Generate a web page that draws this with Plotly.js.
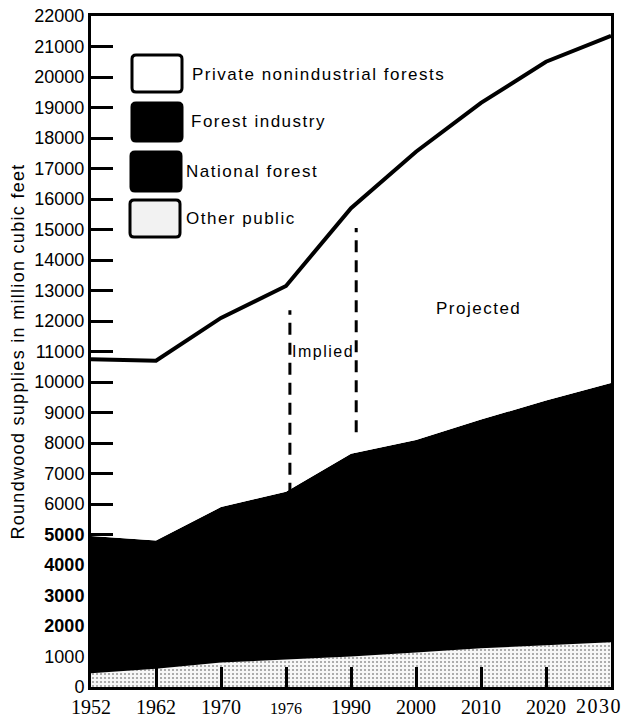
<!DOCTYPE html>
<html>
<head>
<meta charset="utf-8">
<script src="https://cdn.plot.ly/plotly-3.0.1.min.js"></script>
<style>
  html, body { margin: 0; padding: 0; background: #ffffff; }
  #chart { width: 626px; height: 718px; }
  .ytitle { letter-spacing: 1.3px; }
  .annotation-text.spaced, .annotation-text { letter-spacing: 1.5px; }
</style>
</head>
<body>
<div id="chart"></div>
<script>
// ---- Data (million cubic feet) ----
const years = ['1952', '1962', '1970', '1976', '1990', '2000', '2010', '2020', '2030'];
const otherPublic          = [450, 600, 800, 900, 1000, 1130, 1270, 1370, 1470];
const nationalForest       = [1100, 1500, 2100, 2000, 2300, 2400, 2500, 2600, 2700];
const forestIndustry       = [3400, 2700, 3000, 3500, 4350, 4570, 5000, 5420, 5800];
const privateNonindustrial = [5800, 5900, 6200, 6750, 8050, 9450, 10380, 11110, 11380];

const seriesNames = ['Private nonindustrial forests', 'Forest industry', 'National forest', 'Other public'];
const yTickValues = [0, 1000, 2000, 3000, 4000, 5000, 6000, 7000, 8000, 9000, 10000, 11000,
                     12000, 13000, 14000, 15000, 16000, 17000, 18000, 19000, 20000, 21000, 22000];
const boldTicks = [2000, 3000, 4000, 5000];
const yTitle = 'Roundwood supplies in million cubic feet';
const periodLabels = ['Implied', 'Projected'];

// ---- Layout helpers ----
const W = 626, H = 718;
const M = { l: 91, r: 15, t: 16, b: 31 };
const PW = W - M.l - M.r, PH = H - M.t - M.b;
const px = x => (x - M.l) / PW;
const py = y => (H - M.b - y) / PH;

function roundRect(x0, y0, x1, y1, r) {
  const X0 = px(x0), X1 = px(x1), Y0 = py(y0), Y1 = py(y1);
  const rx = r / PW, ry = r / PH;
  return `M ${X0 + rx},${Y0} L ${X1 - rx},${Y0} Q ${X1},${Y0} ${X1},${Y0 - ry} ` +
         `L ${X1},${Y1 + ry} Q ${X1},${Y1} ${X1 - rx},${Y1} L ${X0 + rx},${Y1} ` +
         `Q ${X0},${Y1} ${X0},${Y1 + ry} L ${X0},${Y0 - ry} Q ${X0},${Y0} ${X0 + rx},${Y0} Z`;
}

const traces = [
  {
    x: years, y: otherPublic, name: seriesNames[3], type: 'scatter', mode: 'lines',
    stackgroup: 'one', line: { width: 0, color: '#cfcfcf' },
    fillcolor: '#f3f3f3',
    fillpattern: { shape: '.', fgcolor: '#9a9a9a', bgcolor: '#f7f7f7', size: 4, solidity: 0.22 }
  },
  {
    x: years, y: nationalForest, name: seriesNames[2], type: 'scatter', mode: 'lines',
    stackgroup: 'one', line: { width: 2, color: '#000000' }, fillcolor: '#000000'
  },
  {
    x: years, y: forestIndustry, name: seriesNames[1], type: 'scatter', mode: 'lines',
    stackgroup: 'one', line: { width: 0, color: '#000000' }, fillcolor: '#000000'
  },
  {
    x: years, y: privateNonindustrial, name: seriesNames[0], type: 'scatter', mode: 'lines',
    stackgroup: 'one', line: { width: 4, color: '#000000' }, fillcolor: '#ffffff'
  }
];

const lastYear = years[years.length - 1];
const xTickText = years.map(y => {
  if (y === '1976') return '<span style="font-size:16px">1976</span>';
  if (y === lastYear) return '';           // drawn below as text so it stays inside the page
  return y;
});
const yTickText = yTickValues.map(v => boldTicks.includes(v) ? '<b>' + v + '</b>' : String(v));

// Legend (drawn as boxes + text)
const legendBoxes = [
  { x0: 132, y0: 55,  x1: 182, y1: 92,  fill: '#ffffff' },
  { x0: 132, y0: 103, x1: 182, y1: 141, fill: '#000000' },
  { x0: 131, y0: 152, x1: 181, y1: 191, fill: '#000000' },
  { x0: 130, y0: 200, x1: 180, y1: 237, fill: '#f2f2f2' }
];
const legendTextPos = [
  { x: 190, y: 74 }, { x: 189, y: 122 }, { x: 184, y: 171 }, { x: 184, y: 219 }
];

const shapes = legendBoxes.map(b => ({
  type: 'path', xref: 'paper', yref: 'paper', path: roundRect(b.x0, b.y0, b.x1, b.y1, 4),
  fillcolor: b.fill, line: { color: '#000000', width: 3 }, layer: 'above'
}));

// Dashed period separators
shapes.push({
  type: 'line', xref: 'x', yref: 'y', x0: 3.06, x1: 3.06, y0: 6300, y1: 12350,
  line: { color: '#000000', width: 3, dash: '12px,8px' }
});
shapes.push({
  type: 'line', xref: 'x', yref: 'y', x0: 4.08, x1: 4.08, y0: 8350, y1: 15050,
  line: { color: '#000000', width: 3, dash: '12px,8px' }
});

const sans = 'Liberation Sans, Arial, sans-serif';
const annotations = seriesNames.map((name, i) => ({
  xref: 'paper', yref: 'paper', x: px(legendTextPos[i].x), y: py(legendTextPos[i].y),
  xanchor: 'left', yanchor: 'middle', text: name, showarrow: false,
  font: { family: sans, size: 17, color: '#000000' }
}));
annotations.push({
  xref: 'paper', yref: 'paper', x: px(323), y: py(352), xanchor: 'center', yanchor: 'middle',
  text: periodLabels[0], showarrow: false, font: { family: sans, size: 16, color: '#000000' }
});
annotations.push({
  xref: 'paper', yref: 'paper', x: px(478), y: py(308), xanchor: 'center', yanchor: 'middle',
  text: periodLabels[1], showarrow: false, font: { family: sans, size: 17, color: '#000000' }
});
annotations.push({
  xref: 'paper', yref: 'paper', x: px(624), y: py(706), xanchor: 'right', yanchor: 'middle',
  text: lastYear, showarrow: false, xshift: 0,
  font: { family: 'Liberation Serif, Times New Roman, serif', size: 20, color: '#000000' }
});

const layout = {
  width: W, height: H,
  margin: M,
  paper_bgcolor: '#ffffff', plot_bgcolor: '#ffffff',
  showlegend: false,
  xaxis: {
    type: 'category', range: [0, 8], fixedrange: true,
    tickmode: 'array', tickvals: years, ticktext: xTickText,
    ticks: 'inside', ticklen: 20, tickwidth: 3, tickcolor: '#000000',
    ticklabelstandoff: 0,
    tickfont: { family: 'Liberation Serif, Times New Roman, serif', size: 20, color: '#000000' },
    showline: true, linewidth: 3, linecolor: '#000000', mirror: true,
    showgrid: false, zeroline: false, automargin: false
  },
  yaxis: {
    range: [0, 22000], fixedrange: true,
    tickmode: 'array', tickvals: yTickValues, ticktext: yTickText,
    ticks: 'inside', ticklen: 22, tickwidth: 3, tickcolor: '#000000',
    tickfont: { family: sans, size: 18, color: '#000000' },
    showline: true, linewidth: 3, linecolor: '#000000', mirror: true,
    showgrid: false, zeroline: false, automargin: false,
    title: {
      text: yTitle, standoff: 6,
      font: { family: sans, size: 18, color: '#000000' }
    }
  },
  shapes: shapes,
  annotations: annotations
};

Plotly.newPlot('chart', traces, layout, { displayModeBar: false, staticPlot: true });
</script>
</body>
</html>
